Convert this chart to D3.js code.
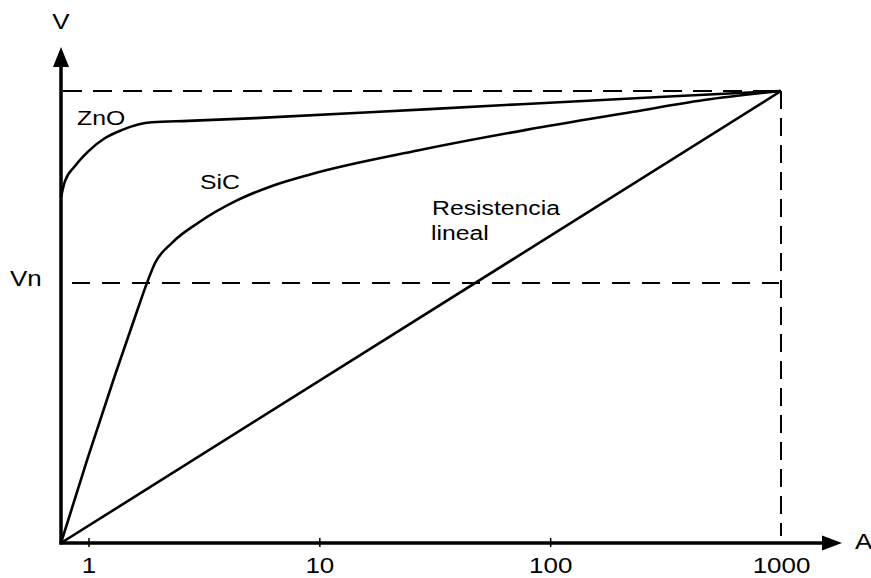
<!DOCTYPE html>
<html>
<head>
<meta charset="utf-8">
<script src="https://cdn.jsdelivr.net/npm/d3@7"></script>
<style>
  body { margin: 0; background: #fff; }
  svg { display: block; }
  text { font-family: "Liberation Sans", Arial, sans-serif; fill: #000; }
</style>
</head>
<body>
<svg id="chart" width="871" height="578"></svg>
<script>
// current (A, log axis) and voltage (% of the top level)
const xTicks = [1, 10, 100, 1000];
const xTickLabels = ["1", "10", "100", "1000"];

const znoCurrent = [0.76, 0.79, 0.874, 0.995, 1.18, 1.40, 1.64, 1.88, 2.70, 5.27, 30, 327, 1000];
const znoVoltage = [76.5, 80.0, 83.4, 86.6, 89.6, 91.4, 92.6, 93.1, 93.4, 94.0, 96.0, 98.8, 100];

const sicCurrent = [0.76, 0.995, 1.30, 1.64, 1.79, 1.94, 2.30, 2.98, 4.44, 6.24, 9.2, 27, 78.7, 229, 464, 1000];
const sicVoltage = [0, 19.0, 37.0, 52.0, 57.5, 61.9, 66.4, 70.8, 75.9, 79.0, 81.6, 86.9, 91.4, 95.4, 98.0, 100];

const linCurrent = [0.76, 1000];
const linVoltage = [0, 100];

const VMAX = 100,
    VN = 57.5,
    IMAX = 1000;

const X0 = 61, X1 = 781,
    Y0 = 543, Y1 = 91;

const STRETCH = 1.18;

let svg = d3.select('#chart');

// log scale for current, linear for voltage
const xScale = d3.scaleLog()
.domain([0.76, IMAX])
.range([X0, X1]);

const yScale = d3.scaleLinear()
.domain([0, VMAX])
.range([Y0, Y1]);

/**
 * zips two arrays into [x, y] pairs
 */
function zip(a, b){
    return a.map((d, i) => [d, b[i]]);
}

/**
 * adds a horizontally stretched label
 */
function label(x, y, txt, size, anchor){
    svg.append('text')
    .attr('transform', `translate(${x},${y}) scale(${STRETCH},1)`)
    .attr('font-size', size)
    .attr('text-anchor', anchor || 'start')
    .text(txt);
}

function drawChart(){
    // dashed guide lines
    const dash = svg.append('g')
    .attr('stroke', '#000')
    .attr('stroke-width', 2)
    .attr('fill', 'none');

    dash.append('line')
    .attr('x1', X0 + 2).attr('x2', xScale(IMAX))
    .attr('y1', yScale(VMAX)).attr('y2', yScale(VMAX))
    .attr('stroke-dasharray', '19 11');

    dash.append('line')
    .attr('x1', X0 + 11).attr('x2', xScale(IMAX) - 2)
    .attr('y1', yScale(VN)).attr('y2', yScale(VN))
    .attr('stroke-dasharray', '18 12');

    dash.append('line')
    .attr('x1', xScale(IMAX)).attr('x2', xScale(IMAX))
    .attr('y1', yScale(VMAX)).attr('y2', Y0 - 7)
    .attr('stroke-dasharray', '18 9');

    // curves
    const line = d3.line()
    .x(d => xScale(d[0]))
    .y(d => yScale(d[1]))
    .curve(d3.curveMonotoneX);

    const series = [zip(znoCurrent, znoVoltage), zip(sicCurrent, sicVoltage), zip(linCurrent, linVoltage)];

    svg.selectAll('path.curve')
    .data(series)
    .enter()
    .append('path')
    .attr('class', 'curve')
    .attr('fill', 'none')
    .attr('stroke', '#000')
    .attr('stroke-width', 2.6)
    .attr('stroke-linejoin', 'round')
    .attr('d', line);

    // x axis with ticks crossing the line
    const xAxis = svg.append('g')
    .attr('transform', `translate(0,${Y0})`)
    .call(d3.axisBottom(xScale)
        .tickValues(xTicks)
        .tickFormat((d, i) => xTickLabels[i])
        .tickSize(5)
        .tickPadding(0));

    xAxis.select('.domain').remove();
    xAxis.selectAll('.tick line')
    .attr('y1', -5)
    .attr('y2', 4)
    .attr('stroke-width', 1.5)
    .style('display', d => d === IMAX ? 'none' : null);
    xAxis.selectAll('.tick text')
    .attr('y', 30)
    .attr('dy', 0)
    .attr('font-size', 22)
    .attr('font-family', '"Liberation Sans", Arial, sans-serif')
    .attr('transform', `scale(${STRETCH},1)`);

    // axis lines with arrows
    svg.append('line')
    .attr('x1', X0 - 1.5).attr('x2', 824)
    .attr('y1', Y0).attr('y2', Y0)
    .attr('stroke', '#000').attr('stroke-width', 3.5);

    svg.append('line')
    .attr('x1', X0).attr('x2', X0)
    .attr('y1', Y0 + 1.5).attr('y2', 64)
    .attr('stroke', '#000').attr('stroke-width', 3.5);

    svg.append('path')
    .attr('d', `M842,${Y0} L822,${Y0 - 7.5} L822,${Y0 + 7.5} Z`)
    .attr('fill', '#000');

    svg.append('path')
    .attr('d', `M${X0},47 L${X0 - 8},67 L${X0 + 8},67 Z`)
    .attr('fill', '#000');

    // labels
    label(X0, 29, 'V', 22, 'middle');
    label(855, 549, 'A', 22);
    label(10, yScale(VN) + 3, 'Vn', 22);
    label(77, 125, 'ZnO', 21);
    label(200, 189, 'SiC', 21);
    label(432, 215, 'Resistencia', 21);
    label(431, 240, 'lineal', 21);
}

drawChart();
</script>
</body>
</html>
